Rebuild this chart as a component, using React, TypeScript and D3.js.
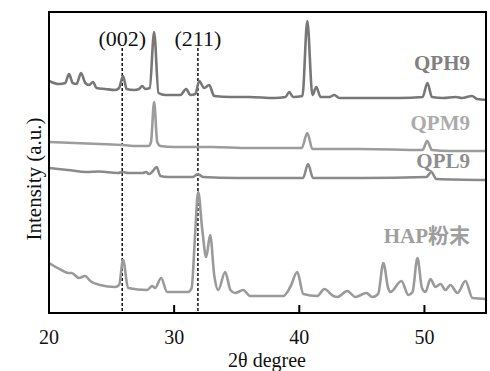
import React from 'react';
import * as d3 from 'd3';

// 2θ (degree), intensity (a.u., offset included)
const qph9: [number, number][] = [
  [20.0, 232], [20.8, 229], [21.3, 230], [21.6, 239], [21.9, 230], [22.2, 229],
  [22.56, 240], [22.9, 230], [23.2, 228], [23.52, 231], [23.8, 225], [24.5, 224],
  [25.3, 223], [25.6, 225], [25.92, 237], [26.2, 224], [26.8, 223], [27.2, 224],
  [27.44, 227], [27.7, 224], [28.05, 225], [28.4, 281], [28.75, 220], [29.3, 218],
  [30.5, 218], [30.96, 224], [31.3, 218], [31.7, 219], [32.0, 232], [32.4, 225],
  [32.8, 228], [33.2, 217], [34.5, 216], [36.0, 216], [38.0, 215], [38.9, 216],
  [39.2, 221], [39.5, 216], [40.25, 217], [40.64, 292], [41.05, 218], [41.36, 226],
  [41.7, 216], [42.4, 216], [42.8, 218], [43.2, 215], [45.0, 215], [48.0, 215],
  [49.85, 216], [50.24, 230], [50.6, 216], [51.5, 215], [52.5, 216], [53.0, 215],
  [53.8, 217], [54.2, 214], [55.0, 213],
];

const qpm9: [number, number][] = [
  [20, 171], [22, 170], [24, 169], [25.9, 168], [27, 167], [27.95, 167],
  [28.15, 171], [28.4, 211], [28.65, 171], [28.9, 167], [30, 166], [33, 166],
  [36, 165], [40.2, 165], [40.64, 180], [41.05, 164], [42, 164], [45, 164],
  [49.85, 163], [50.22, 172], [50.6, 163], [52, 162], [55, 162],
];

const qpl9: [number, number][] = [
  [20, 145], [21.5, 143], [23, 141], [24, 141.5], [25.5, 140], [25.9, 141],
  [26.3, 140], [27.5, 140], [27.75, 141], [28.0, 139], [28.3, 142], [28.6, 146],
  [28.9, 137], [29.5, 136], [31.5, 136], [31.9, 139], [32.3, 136], [35, 135],
  [40.3, 135], [40.7, 149], [41.1, 135], [45, 135], [50.15, 136], [50.55, 141],
  [50.95, 134], [55, 133],
];

const hap: [number, number][] = [
  [20, 50], [21.0, 43], [21.52, 40], [21.8, 40], [22.4, 35], [22.88, 37],
  [23.3, 32], [24.08, 28], [25.28, 26], [25.6, 28], [25.92, 53], [26.32, 25],
  [27.84, 23], [28.24, 27], [28.48, 25], [28.96, 35], [29.44, 21], [31.12, 21],
  [31.4, 25], [31.65, 73], [31.92, 121], [32.25, 83], [32.56, 56], [32.88, 78],
  [33.2, 38], [33.52, 23], [34.08, 41], [34.5, 23], [34.88, 20], [35.52, 23],
  [36.08, 17], [38.72, 17], [39.28, 26], [39.84, 41], [40.32, 19], [41.44, 17],
  [42.0, 24], [42.72, 17], [43.04, 16], [43.84, 22], [44.48, 16], [45.36, 20],
  [45.84, 16], [46.3, 19], [46.72, 50], [47.1, 25], [47.28, 21], [48.16, 32],
  [48.72, 18], [49.05, 21], [49.44, 55], [49.8, 25], [50.08, 21], [50.48, 34],
  [50.88, 26], [51.28, 29], [51.68, 23], [52.08, 28], [52.64, 20], [53.28, 32],
  [53.84, 15], [55, 14],
];

const series = [
  { name: 'QPH9', data: qph9, color: '#777777', label: '#808080', labelY: 70 },
  { name: 'QPM9', data: qpm9, color: '#9c9c9c', label: '#ababab', labelY: 130 },
  { name: 'QPL9', data: qpl9, color: '#8a8a8a', label: '#8e8e8e', labelY: 168 },
  { name: 'HAP粉末', data: hap, color: '#9a9a9a', label: '#9e9e9e', labelY: 243 },
];

const xTicks = [20, 30, 40, 50];
const refLines = [
  { label: '(002)', pos: 25.85 },
  { label: '(211)', pos: 31.9 },
];

const W = 490;
const H = 371;
const m = { top: 12, right: 3, bottom: 58, left: 49 };
const serif = '"Liberation Serif", "Times New Roman", serif';

export default function App() {
  const x = d3.scaleLinear().domain([20, 55]).range([m.left, W - m.right]);
  const y = d3.scaleLinear().domain([0, 301]).range([H - m.bottom, m.top]);
  const line = d3
    .line<[number, number]>()
    .x(d => x(d[0]))
    .y(d => y(d[1]))
    .curve(d3.curveMonotoneX);

  const bottom = H - m.bottom;

  return (
    <svg
      width={W}
      height={H}
      style={{ position: 'absolute', left: 0, top: 0, background: '#fff' }}
      fontFamily={serif}
    >
      <defs>
        <clipPath id="plot">
          <rect x={m.left} y={m.top} width={W - m.left - m.right} height={bottom - m.top} />
        </clipPath>
      </defs>

      {refLines.map(r => (
        <g key={r.label}>
          <line
            x1={x(r.pos)}
            x2={x(r.pos)}
            y1={48}
            y2={bottom}
            stroke="#000"
            strokeWidth={1.4}
            strokeDasharray="3,2"
          />
          <text x={x(r.pos)} y={46} textAnchor="middle" fontSize={22} fill="#111">
            {r.label}
          </text>
        </g>
      ))}

      <g clipPath="url(#plot)">
        {series.map(s => (
          <path
            key={s.name}
            d={line(s.data) || ''}
            fill="none"
            stroke={s.color}
            strokeWidth={2.6}
            strokeLinejoin="round"
          />
        ))}
      </g>

      {series.map(s => (
        <text
          key={s.name}
          x={470}
          y={s.labelY}
          textAnchor="end"
          fontSize={21}
          fontWeight="bold"
          fill={s.label}
          fontFamily={'"Liberation Serif", "Noto Sans CJK SC", serif'}
        >
          {s.name}
        </text>
      ))}

      <rect
        x={m.left}
        y={m.top}
        width={W - m.left - m.right - 1}
        height={bottom - m.top}
        fill="none"
        stroke="#000"
        strokeWidth={2}
      />

      {xTicks.map(t => (
        <g key={t}>
          {t > 20 && (
            <line x1={x(t)} x2={x(t)} y1={bottom} y2={bottom - 8} stroke="#000" strokeWidth={2} />
          )}
          <text x={x(t)} y={344} textAnchor="middle" fontSize={20} fill="#111">
            {t}
          </text>
        </g>
      ))}

      <text x={267} y={367} textAnchor="middle" fontSize={20} fill="#111">
        2θ degree
      </text>
      <text
        transform={`translate(41,179) rotate(-90)`}
        textAnchor="middle"
        fontSize={21}
        fill="#111"
      >
        Intensity (a.u.)
      </text>
    </svg>
  );
}
